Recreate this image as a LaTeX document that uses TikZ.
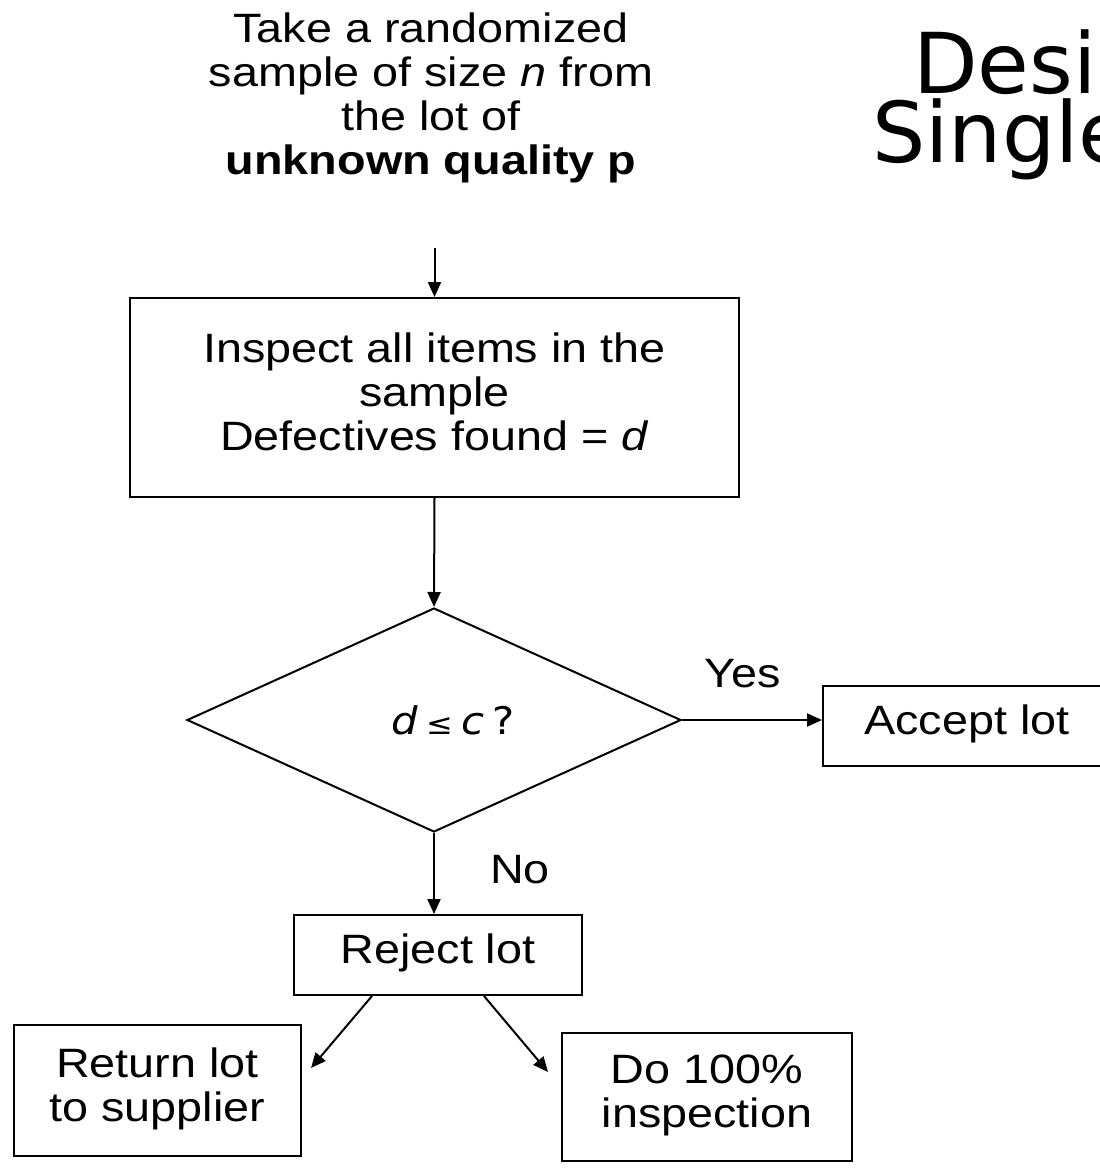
\documentclass[tikz,border=0pt]{standalone}
\usepackage{fontspec}
\setmainfont{Liberation Sans}[FakeStretch=1.14]
\newfontfamily\titlefont{DejaVu Sans}
\newfontfamily\dfont{DejaVu Sans}[FakeStretch=1.1]
\usetikzlibrary{shapes.geometric,arrows.meta,calc}
\newcommand\ml[2][0pt]{\raisebox{#1}{\begin{tabular}{@{}c@{}}#2\end{tabular}}}
\newcommand\sm[1]{\smash{#1}}
\begin{document}
\begin{tikzpicture}[x=1pt,y=-1pt,
  txt/.style={font=\fontsize{41}{44}\selectfont, inner sep=0pt},
  box/.style={txt, draw, line width=2pt},
  conn/.style={line width=2pt, -{Triangle[length=15pt,width=13pt]}},
  ttl/.style={anchor=base west, inner sep=0pt, font=\titlefont\fontsize{84}{100}\selectfont}
]
\useasboundingbox (0,0) rectangle (1100,1168);
\clip (0,0) rectangle (1100,1168);

% title (cut off at the right edge)
\node[ttl] (t1) at (913,93) {Desi};
\node[ttl] (t2) at (872,162) {Single};

% top text
\node[txt] (lot) at (431,99.9) {\ml{\sm{Take a randomized}\\\sm{sample of size \textit{n} from}\\\sm{the lot of}\\\sm{\textbf{unknown quality p}}}};

% inspect box
\node[box, minimum width=609pt, minimum height=199pt] (insp) at (434.5,397.5)
  {\ml[4.6pt]{\sm{Inspect all items in the}\\\sm{sample}\\\sm{Defectives found = \textit{d}}}};

% decision
\node[draw, diamond, line width=2pt, minimum width=494pt, minimum height=224pt, inner sep=0pt,
      font=\dfont\fontsize{38}{44}\selectfont] (dec) at (434,720)
  {\hspace*{38pt}\textit{d}\hspace{8pt}{\fontsize{29}{44}\selectfont ≤}\hspace{8pt}\textit{c}\hspace{8pt}?};

% accept
\node[box, minimum width=288pt, minimum height=80pt] (acc) at (967,726) {\ml[-7.9pt]{\sm{Accept lot}}};
\node[txt, anchor=base west] (yes) at (704,687) {Yes};

% reject
\node[box, minimum width=288pt, minimum height=80pt] (rej) at (438,955) {\ml[-5.9pt]{\sm{Reject lot}}};
\node[txt, anchor=base west] (no) at (490,883) {No};

% bottom boxes
\node[box, minimum width=287pt, minimum height=131pt] (ret) at (157.5,1090.5) {\ml[-10.4pt]{\sm{Return lot}\\\sm{to supplier}}};
\node[box, minimum width=290pt, minimum height=128pt] (do) at (707,1097) {\ml[-3.9pt]{\sm{Do 100\%}\\\sm{inspection}}};

\coordinate (retend) at (311,1068);
\coordinate (doend) at (548,1072);

% connectors
\draw[conn, shorten <=60pt] (lot.south -| insp.north) -- (insp.north);
\draw[conn] (insp.south) -- (dec.north);
\draw[conn] (dec.east) -- (dec.east -| acc.west);
\draw[conn] (dec.south) -- (dec.south |- rej.north);
\draw[conn] ($(rej.south west)+(79,0)$) -- (retend);
\draw[conn] ($(rej.south west)+(191,0)$) -- (doend);
\end{tikzpicture}
\end{document}
